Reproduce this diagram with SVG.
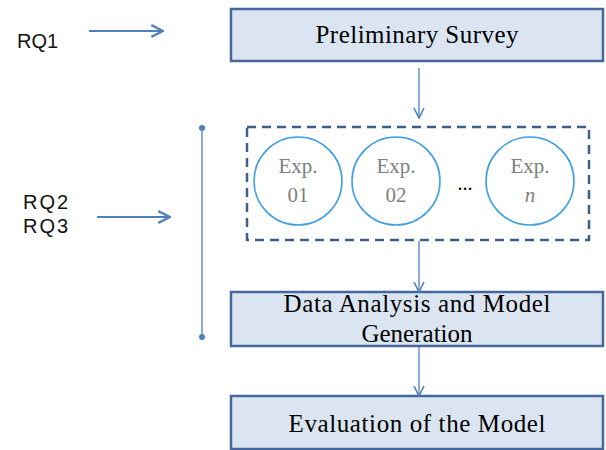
<svg xmlns="http://www.w3.org/2000/svg" width="606" height="450" viewBox="0 0 606 450">
<defs>
<marker id="open" viewBox="0 0 12 12" refX="11" refY="6" markerWidth="12" markerHeight="12" markerUnits="userSpaceOnUse" orient="auto">
<path d="M1,1 L11,6 L1,11" fill="none" stroke="#4f81bd" stroke-width="1.6"/>
</marker>
<marker id="bigopen" viewBox="0 0 12 12" refX="11" refY="6" markerWidth="14" markerHeight="14" markerUnits="userSpaceOnUse" orient="auto">
<path d="M1,1 L11,6 L1,11" fill="none" stroke="#4f81bd" stroke-width="2"/>
</marker>
</defs>
<style>
.box{fill:#dbe5f1;stroke:#45679a;stroke-width:2.5}
.lbl{font-family:"Liberation Serif","DejaVu Serif",serif;font-size:25px;fill:#000;text-anchor:middle}
.rq{font-family:"Liberation Sans","DejaVu Sans",sans-serif;font-size:20px;fill:#111}
.circ{fill:#fff;stroke:#3fa0e6;stroke-width:1.6}
.exp{font-family:"Liberation Serif","DejaVu Serif",serif;font-size:21px;fill:#7f7f7f;text-anchor:middle}
.arr{stroke:#4f81bd;stroke-width:1.3;fill:none}
.arrb{stroke:#4f81bd;stroke-width:2;fill:none}
</style>
<rect width="606" height="450" fill="#fff"/>
<g id="rq1"><text class="rq" x="17" y="48" textLength="41">RQ1</text></g>
<g id="rq23"><text class="rq" x="23" y="209" font-size="19" textLength="45">RQ2</text><text class="rq" x="23" y="233" font-size="19" textLength="45">RQ3</text></g>
<g id="survey"><rect class="box" x="231" y="9" width="372" height="52"/><text class="lbl" x="417" y="43" textLength="203">Preliminary Survey</text></g>
<g id="experiments">
<rect x="247" y="127" width="342" height="113" fill="none" stroke="#3d5f8c" stroke-width="2.5" stroke-dasharray="9,6"/>
<g id="exp1"><circle class="circ" cx="298" cy="181" r="44"/><text class="exp" x="298" y="173">Exp.</text><text class="exp" x="298" y="202">01</text></g>
<g id="exp2"><circle class="circ" cx="396" cy="181" r="44"/><text class="exp" x="396" y="173">Exp.</text><text class="exp" x="396" y="202">02</text></g>
<text x="465" y="190" font-family="Liberation Serif,serif" font-size="20" text-anchor="middle" fill="#000">...</text>
<g id="expn"><circle class="circ" cx="530" cy="181" r="44"/><text class="exp" x="530" y="173">Exp.</text><text class="exp" x="530" y="202" font-style="italic">n</text></g>
</g>
<g id="analysis"><rect class="box" x="231" y="292" width="372" height="54"/><text class="lbl" x="417" y="312" textLength="267">Data Analysis and Model</text><text class="lbl" x="417" y="342">Generation</text></g>
<g id="evaluation"><rect class="box" x="231" y="396" width="372" height="53"/><text class="lbl" x="417" y="432" textLength="257">Evaluation of the Model</text></g>
<g id="connectors">
<line class="arrb" x1="89" y1="31" x2="163" y2="31" marker-end="url(#bigopen)"/>
<line class="arrb" x1="97" y1="217" x2="170" y2="217" marker-end="url(#bigopen)"/>
<line class="arr" x1="419" y1="68" x2="419" y2="118" marker-end="url(#open)"/>
<line class="arr" x1="419" y1="241" x2="419" y2="292" marker-end="url(#open)"/>
<line class="arr" x1="419" y1="347" x2="419" y2="396" marker-end="url(#open)"/>
<line class="arr" x1="202" y1="128" x2="202" y2="337"/>
<circle cx="202" cy="128" r="3" fill="#4f81bd"/>
<circle cx="202" cy="337" r="3" fill="#4f81bd"/>
</g>
</svg>
